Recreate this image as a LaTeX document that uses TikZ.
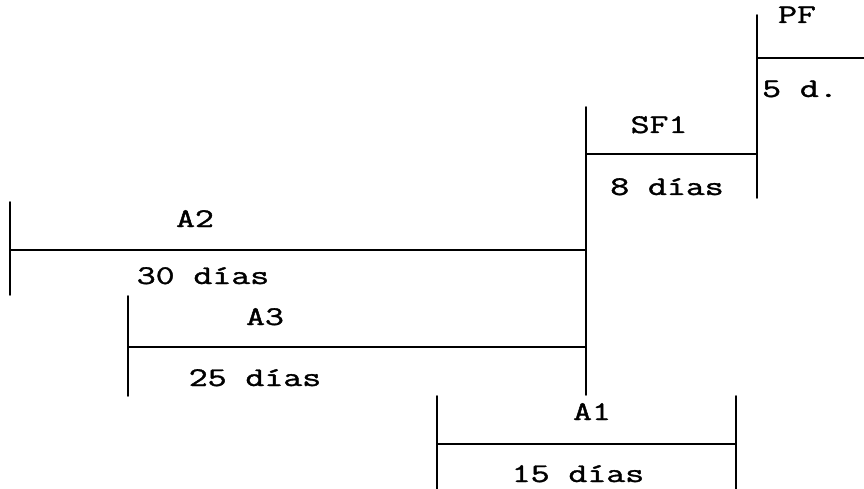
\documentclass[tikz,border=0pt]{standalone}
\usepackage{fontspec}
\usepackage{graphicx}
\newfontfamily\courfont{Latin Modern Mono}[FakeBold=1.2]
\newcommand{\wtext}[1]{\scalebox{1.36}[1]{#1}}
\tikzset{
  bar/.style={line width=1.7pt, line cap=round},
  lbl/.style={font=\courfont\fontsize{27}{30}\selectfont, anchor=base, inner sep=0pt}
}
\begin{document}
\begin{tikzpicture}[x=1pt,y=-1pt]
\useasboundingbox (0,0) rectangle (864,489);
% coordinates
\coordinate (a2t) at (10,202);
\coordinate (a2b) at (10,295);
\coordinate (a2l) at (10,250);
\coordinate (a2r) at (586,250);
\coordinate (vt) at (586,107);
\coordinate (vb) at (586,395);
\coordinate (a3t) at (128,296);
\coordinate (a3b) at (128,396);
\coordinate (a3l) at (128,347);
\coordinate (a3r) at (586,347);
\coordinate (a1lt) at (437,396);
\coordinate (a1lb) at (437,489);
\coordinate (a1rt) at (736,396);
\coordinate (a1rb) at (736,489);
\coordinate (a1l) at (437,444);
\coordinate (a1r) at (736,444);
\coordinate (sfl) at (586,154);
\coordinate (sfr) at (757,154);
\coordinate (v2t) at (757,15);
\coordinate (v2b) at (757,198);
\coordinate (pfl) at (757,58);
\coordinate (pfr) at (864,58);
% lines
\draw[bar] (a2t) -- (a2b);
\draw[bar] (a2l) -- (a2r);
\draw[bar] (vt) -- (vb);
\draw[bar] (a3t) -- (a3b);
\draw[bar] (a3l) -- (a3r);
\draw[bar] (a1lt) -- (a1lb);
\draw[bar] (a1rt) -- (a1rb);
\draw[bar] (a1l) -- (a1r);
\draw[bar] (sfl) -- (sfr);
\draw[bar] (v2t) -- (v2b);
\draw[bar] (pfl) -- (pfr);
% labels
\node[lbl] (tA2) at (195,227) {\wtext{A2}};
\node[lbl] (d30) at (203,284) {\wtext{30 días}};
\node[lbl] (tA3) at (265,325) {\wtext{A3}};
\node[lbl] (d25) at (255,386) {\wtext{25 días}};
\node[lbl] (tA1) at (592,420) {\wtext{A1}};
\node[lbl] (d15) at (578,482) {\wtext{15 días}};
\node[lbl] (tSF) at (659,133) {\wtext{SF1}};
\node[lbl] (d8) at (667,195) {\wtext{8 días}};
\node[lbl] (tPF) at (797,23) {\wtext{PF}};
\node[lbl] (d5) at (800,97) {\wtext{5 d.}};
\end{tikzpicture}
\end{document}
